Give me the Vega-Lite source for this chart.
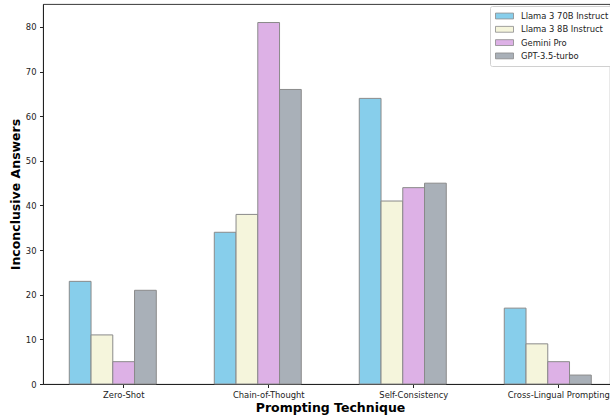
{
  "$schema": "https://vega.github.io/schema/vega-lite/v6.json",
  "width": 567,
  "height": 380,
  "autosize": {"type": "none"},
  "padding": {"left": 43, "top": 4, "right": 0, "bottom": 33},
  "background": "white",
  "config": {
    "font": "DejaVu Sans",
    "view": {"stroke": "#222", "strokeWidth": 0.9},
    "axis": {"labelFont": "DejaVu Sans", "titleFont": "DejaVu Sans", "labelColor": "#222", "titleColor": "#000", "domainColor": "#222", "tickColor": "#222", "grid": false}
  },
  "data": {
    "values": [
      {"technique": "Zero-Shot", "model": "Llama 3 70B Instruct", "count": 23},
      {"technique": "Zero-Shot", "model": "Llama 3 8B Instruct", "count": 11},
      {"technique": "Zero-Shot", "model": "Gemini Pro", "count": 5},
      {"technique": "Zero-Shot", "model": "GPT-3.5-turbo", "count": 21},
      {"technique": "Chain-of-Thought", "model": "Llama 3 70B Instruct", "count": 34},
      {"technique": "Chain-of-Thought", "model": "Llama 3 8B Instruct", "count": 38},
      {"technique": "Chain-of-Thought", "model": "Gemini Pro", "count": 81},
      {"technique": "Chain-of-Thought", "model": "GPT-3.5-turbo", "count": 66},
      {"technique": "Self-Consistency", "model": "Llama 3 70B Instruct", "count": 64},
      {"technique": "Self-Consistency", "model": "Llama 3 8B Instruct", "count": 41},
      {"technique": "Self-Consistency", "model": "Gemini Pro", "count": 44},
      {"technique": "Self-Consistency", "model": "GPT-3.5-turbo", "count": 45},
      {"technique": "Cross-Lingual Prompting", "model": "Llama 3 70B Instruct", "count": 17},
      {"technique": "Cross-Lingual Prompting", "model": "Llama 3 8B Instruct", "count": 9},
      {"technique": "Cross-Lingual Prompting", "model": "Gemini Pro", "count": 5},
      {"technique": "Cross-Lingual Prompting", "model": "GPT-3.5-turbo", "count": 2}
    ]
  },
  "mark": {"type": "bar", "stroke": "#8a8a8a", "strokeWidth": 1},
  "encoding": {
    "x": {
      "field": "technique",
      "type": "nominal",
      "sort": ["Zero-Shot", "Chain-of-Thought", "Self-Consistency", "Cross-Lingual Prompting"],
      "scale": {"paddingInner": 0.4, "paddingOuter": 0.1552, "align": 0.584},
      "axis": {
        "title": "Prompting Technique",
        "titleFontSize": 12.5,
        "titleFontWeight": "bold",
        "titlePadding": 3,
        "titleX": 287,
        "labelFontSize": 8.4,
        "labelAngle": 0,
        "labelPadding": 2.5,
        "tickSize": 3.5,
        "tickOffset": 10.5,
        "domain": true
      }
    },
    "xOffset": {
      "field": "model",
      "type": "nominal",
      "sort": ["Llama 3 70B Instruct", "Llama 3 8B Instruct", "Gemini Pro", "GPT-3.5-turbo"],
      "scale": {"paddingInner": 0, "paddingOuter": 0}
    },
    "y": {
      "field": "count",
      "type": "quantitative",
      "scale": {"domain": [0, 85.15], "nice": false},
      "axis": {
        "title": "Inconclusive Answers",
        "titleFontSize": 12.5,
        "titleFontWeight": "bold",
        "titlePadding": 3,
        "labelFontSize": 8.4,
        "labelPadding": 3.5,
        "tickSize": 3.5,
        "values": [0, 10, 20, 30, 40, 50, 60, 70, 80]
      }
    },
    "fill": {
      "field": "model",
      "type": "nominal",
      "sort": ["Llama 3 70B Instruct", "Llama 3 8B Instruct", "Gemini Pro", "GPT-3.5-turbo"],
      "scale": {
        "domain": ["Llama 3 70B Instruct", "Llama 3 8B Instruct", "Gemini Pro", "GPT-3.5-turbo"],
        "range": ["#87CEEB", "#F5F5DC", "#DDB1E6", "#A9B0B8"]
      },
      "legend": {
        "title": null,
        "orient": "none",
        "legendX": 447,
        "legendY": 2,
        "padding": 5,
        "strokeColor": "#d0d0d0",
        "fillColor": "white",
        "cornerRadius": 2,
        "labelFontSize": 8.4,
        "labelColor": "#222",
        "rowPadding": 3.3,
        "symbolType": "M-1,-0.65H3V0.65H-1Z",
        "symbolSize": 81,
        "symbolStrokeColor": "#8a8a8a",
        "symbolStrokeWidth": 0.8,
        "symbolOpacity": 1,
        "labelOffset": 16
      }
    }
  }
}
